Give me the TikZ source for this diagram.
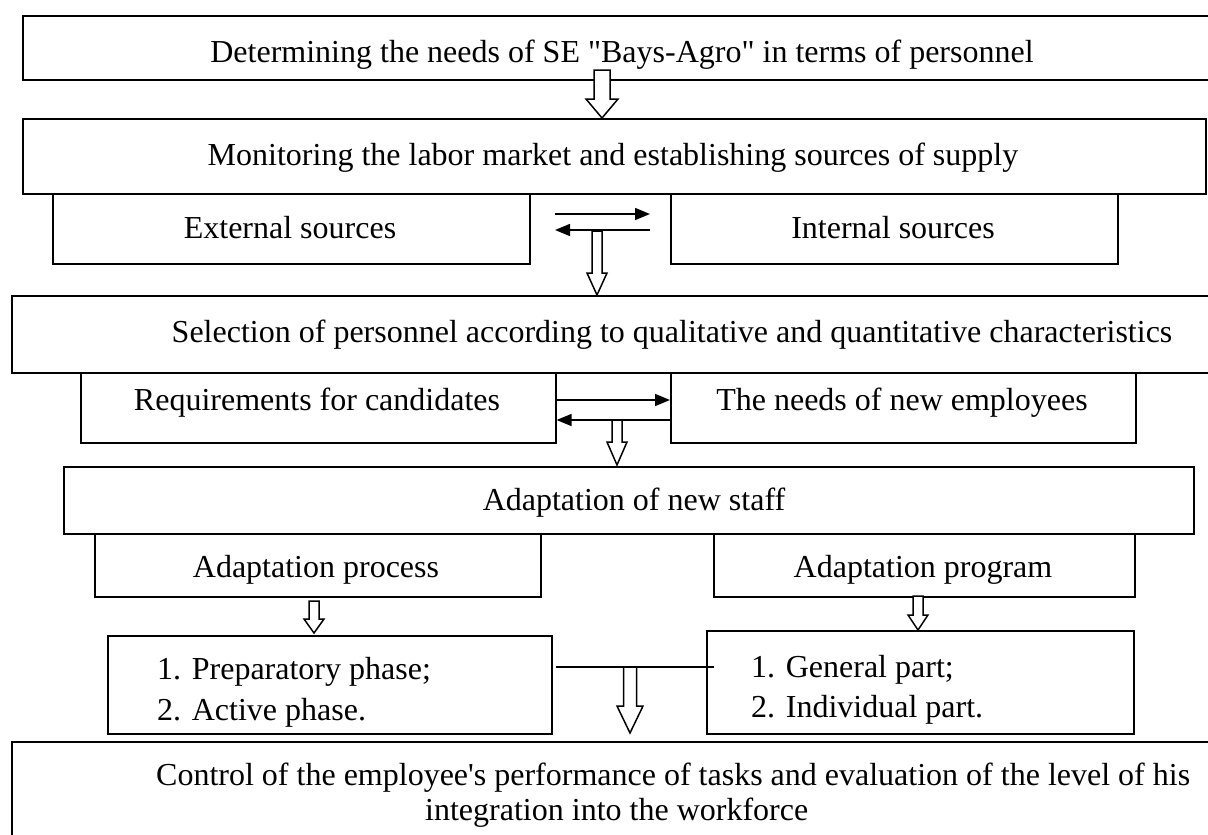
\documentclass[tikz,border=0pt]{standalone}
\usepackage{fontspec}
\setmainfont{Liberation Serif}[Ligatures=TeXOff]
\usetikzlibrary{arrows.meta,calc}
\newcommand\blockarrow[5]{%
  \path[hollow] ($(#1)+(-#3,0)$) -- ($(#1)+(#3,0)$) -- ($(#2)+(#3,-#5)$)
    -- ($(#2)+(#4,-#5)$) -- (#2) -- ($(#2)+(-#4,-#5)$) -- ($(#2)+(-#3,-#5)$) -- cycle;}
\begin{document}
\begin{tikzpicture}[x=1pt,y=-1pt,
  box/.style={draw,line width=1.6pt,fill=white,inner sep=0pt,anchor=north west},
  txt/.style={inner sep=0pt,anchor=base,font=\fontsize{32}{38}\selectfont},
  ltxt/.style={txt,anchor=base west},
  thinarrow/.style={line width=1.5pt,-{Triangle[length=15pt,width=12pt]}},
  hollow/.style={draw,line width=1.5pt,fill=white,line join=miter}]
\useasboundingbox (0,0) rectangle (1208,835);
\clip (0,0) rectangle (1208,835);
\fill[white] (0,0) rectangle (1208,835);

% boxes
\node[box,minimum width=1300pt,minimum height=64pt] (b1) at (22,15) {};
\node[box,minimum width=1183pt,minimum height=75pt] (b2) at (22,118) {};
\node[box,minimum width=477pt,minimum height=70pt] (ext) at (52,193) {};
\node[box,minimum width=447pt,minimum height=70pt] (int) at (670,193) {};
\node[box,minimum width=1300pt,minimum height=77pt] (b3) at (11,295) {};
\node[box,minimum width=475pt,minimum height=70pt] (req) at (80,372) {};
\node[box,minimum width=465pt,minimum height=70pt] (need) at (670,372) {};
\node[box,minimum width=1130pt,minimum height=67pt] (b4) at (63,466) {};
\node[box,minimum width=446pt,minimum height=63pt] (proc) at (94,533) {};
\node[box,minimum width=421pt,minimum height=63pt] (prog) at (713,533) {};
\node[box,minimum width=444pt,minimum height=98pt] (prep) at (107,635) {};
\node[box,minimum width=427pt,minimum height=103pt] (gen) at (706,630) {};
\node[box,minimum width=1300pt,minimum height=200pt] (b5) at (11,741) {};

% texts
\node[txt] (t1) at (622,62) {Determining the needs of SE "Bays-Agro" in terms of personnel};
\node[txt] (t2) at (613,165) {Monitoring the labor market and establishing sources of supply};
\node[txt] (t3) at (290,238) {External sources};
\node[txt] (t4) at (893,238) {Internal sources};
\node[txt] (t5) at (672,342) {Selection of personnel according to qualitative and quantitative characteristics};
\node[txt] (t6) at (317,410) {Requirements for candidates};
\node[txt] (t7) at (902,410) {The needs of new employees};
\node[txt] (t8) at (634,510) {Adaptation of new staff};
\node[txt] (t9) at (316,577) {Adaptation process};
\node[txt] (t10) at (923,577) {Adaptation program};
\node[ltxt] (t11) at (157,679) {1. Preparatory phase;};
\node[ltxt] (t12) at (157,720) {2. Active phase.};
\node[ltxt] (t13) at (751,677) {1. General part;};
\node[ltxt] (t14) at (751,717) {2. Individual part.};
\node[ltxt] (t15) at (156,785) {Control of the employee's performance of tasks and evaluation of the level of his};
\node[ltxt] (t16) at (425,820) {integration into the workforce};

% thin arrows
\coordinate (p1a) at (555,214); \coordinate (p1b) at (650,214);
\coordinate (p2a) at (650,230); \coordinate (p2b) at (555,230);
\draw[thinarrow] (p1a) -- (p1b);
\draw[thinarrow] (p2a) -- (p2b);
\coordinate (q1a) at (req.east |- 0,400); \coordinate (q1b) at (need.west |- 0,400);
\coordinate (q2a) at (need.west |- 0,420); \coordinate (q2b) at (req.east |- 0,420);
\draw[thinarrow] (q1a) -- (q1b);
\draw[thinarrow] (q2a) -- (q2b);
\coordinate (la) at (556,667); \coordinate (lb) at (714,667);
\draw[line width=1.5pt] (la) -- (lb);

% block arrows
\coordinate (a1s) at (602,70);  \coordinate (a1e) at (602,118);
\coordinate (a2s) at (597,231); \coordinate (a2e) at (597,295);
\coordinate (a3s) at (617,420); \coordinate (a3e) at (617,465);
\coordinate (a4s) at (314,601); \coordinate (a4e) at (314,633);
\coordinate (a5s) at (918,596); \coordinate (a5e) at (918,630);
\coordinate (a6s) at (630,667); \coordinate (a6e) at (630,733);
\blockarrow{a1s}{a1e}{8}{16}{19}
\blockarrow{a2s}{a2e}{5}{10}{22}
\blockarrow{a3s}{a3e}{5}{10}{23}
\blockarrow{a4s}{a4e}{5}{10}{14}
\blockarrow{a5s}{a5e}{5}{10}{15}
\blockarrow{a6s}{a6e}{6.5}{13}{27}
\end{tikzpicture}
\end{document}
